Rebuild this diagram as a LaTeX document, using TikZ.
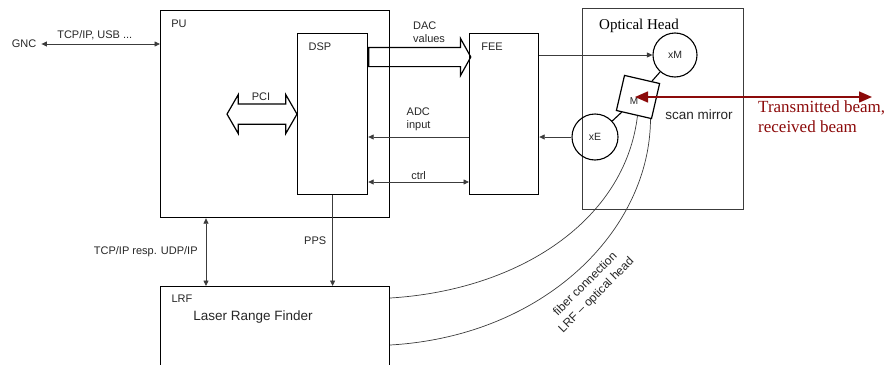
\documentclass[tikz,border=0pt]{standalone}
\usepackage{fontspec}
\setmainfont{Liberation Serif}
\setsansfont{Liberation Sans}
\usepackage{xcolor}
\usepackage{tikz}
\usetikzlibrary{arrows.meta, positioning, shapes.arrows, calc}

\definecolor{beamred}{RGB}{140,10,10}
\definecolor{linegray}{RGB}{60,60,60}

\begin{document}
\begin{tikzpicture}[
    x=1pt, y=-1pt,
    box/.style={rectangle, draw, line width=1.2pt, inner sep=0pt},
    headbox/.style={rectangle, draw=linegray, line width=0.9pt, inner sep=0pt},
    unit/.style={circle, draw, line width=1.1pt, inner sep=0pt, text=black!85, font=\sffamily\fontsize{10.5}{12}\selectfont},
    lbl/.style={inner sep=0pt, text=black!85, font=\sffamily\fontsize{11}{13}\selectfont},
    biglbl/.style={inner sep=0pt, text=black!85, font=\sffamily\fontsize{13.5}{16}\selectfont},
    arrow/.style={-{Triangle[length=5.5pt, width=5pt]}, draw=linegray, line width=0.8pt},
    both/.style={{Triangle[length=5.5pt, width=5pt]}-{Triangle[length=5.5pt, width=5pt]}, draw=linegray, line width=0.8pt},
    fat/.style={single arrow, draw, line width=1.2pt, inner xsep=0pt, inner ysep=9pt, single arrow head extend=9pt, single arrow tip angle=122},
    fatboth/.style={double arrow, draw, line width=1.2pt, inner xsep=0pt, inner ysep=9.5pt, double arrow head extend=9.5pt, double arrow tip angle=120},
    fiber/.style={draw=linegray, line width=0.7pt},
    beam/.style={{Triangle[length=13pt, width=11pt]}-{Triangle[length=13pt, width=11pt]}, draw=beamred, line width=1.5pt}
]
\useasboundingbox (0,0) rectangle (891,364);
\clip (0,0) rectangle (891,364);

% blocks
\node[box, minimum width=229, minimum height=207, anchor=north west] (pu) at (160,10) {};
\node[box, minimum width=70, minimum height=161, anchor=north west] (dsp) at (297,33) {};
\node[box, minimum width=69, minimum height=161, anchor=north west] (fee) at (469,33) {};
\node[headbox, minimum width=161, minimum height=201, anchor=north west] (ohead) at (582,8) {};
\node[box, minimum width=229, minimum height=90, anchor=north west] (lrf) at (160,286) {};
\node[unit, minimum size=44] (xm) at (675,55) {xM};
\node[unit, minimum size=46] (xe) at (595,137) {xE};
\node[box, minimum size=36, rotate=-13] (mirror) at (638,97) {};

% block labels
\node[lbl] at (179,24) {PU};
\node[lbl] at (320,47) {DSP};
\node[lbl] at (492,47) {FEE};
\node[lbl] at (182,299) {LRF};
\node[biglbl] at (253,317) {Laser Range Finder};
\node[font=\fontsize{15}{18}\selectfont, inner sep=0pt] at (639,26) {Optical Head};
\node[biglbl] at (699,115) {scan mirror};
\node[lbl, font=\sffamily\fontsize{10}{12}\selectfont] at (634,101) {M};

% GNC link
\node[lbl, inner xsep=5pt] (gnc) at (24,44) {GNC};
\draw[both] (gnc.east) -- (pu.west |- gnc.east) node[lbl, pos=0.45, above=4pt] {TCP/IP, USB ...};

% PCI and DAC buses
\node[fatboth, minimum height=70] (pci) at ($(dsp.west)+(-35,0)$) {};
\node[lbl] at (261,97) {PCI};
\coordinate (dacy) at (0,57);
\node[fat, minimum height=102, anchor=tail] (dac) at (dsp.east |- dacy) {};
\node[lbl, align=left, anchor=south west] at (413,43) {DAC\\values};

% DSP <-> FEE
\draw[arrow] (fee.west |- xe) -- (dsp.east |- xe) node[lbl, pos=0.5, above=6pt, align=left] {ADC\\input};
\coordinate (ctrly) at (0,182);
\draw[both] (dsp.east |- ctrly) -- (fee.west |- ctrly) node[lbl, midway, above=2pt] {ctrl};

% FEE <-> optical head
\draw[arrow] (fee.east |- xm.west) -- (xm.west);
\draw[arrow] (xe.west) -- (fee.east |- xe.west);
\draw[line width=1.1pt] (xm) -- (mirror);
\draw[line width=1.1pt] (mirror) -- (xe);

% PU <-> LRF
\coordinate (tcpx) at (206,0);
\draw[both] (pu.south -| tcpx) -- (lrf.north -| tcpx) node[lbl, midway, left=8pt] {TCP/IP resp. UDP/IP};
\draw[arrow] (dsp.south) -- (lrf.north -| dsp.south) node[lbl, midway, left=6pt] {PPS};

% fibers
\draw[fiber] ($(lrf.north east)+(0,12)$) .. controls (520,290) and (625,220) .. ($(mirror.south west)!0.6!(mirror.south east)$);
\draw[fiber] ($(lrf.north east)+(0,59)$) .. controls (545,336) and (650,230) .. ($(mirror.south west)!0.96!(mirror.south east)$);
\node[lbl, font=\sffamily\fontsize{12}{15.5}\selectfont, rotate=45, align=center] at (591,290) {fiber connection\\LRF -- optical head};

% beam
\coordinate (beamend) at (872,97);
\draw[beam] ([xshift=-3pt]mirror.center) -- (beamend);
\node[font=\fontsize{17}{20}\selectfont, text=beamred, align=left, inner sep=0pt, anchor=north west] at (758,101) {Transmitted beam,\\received beam};
\end{tikzpicture}
\end{document}
